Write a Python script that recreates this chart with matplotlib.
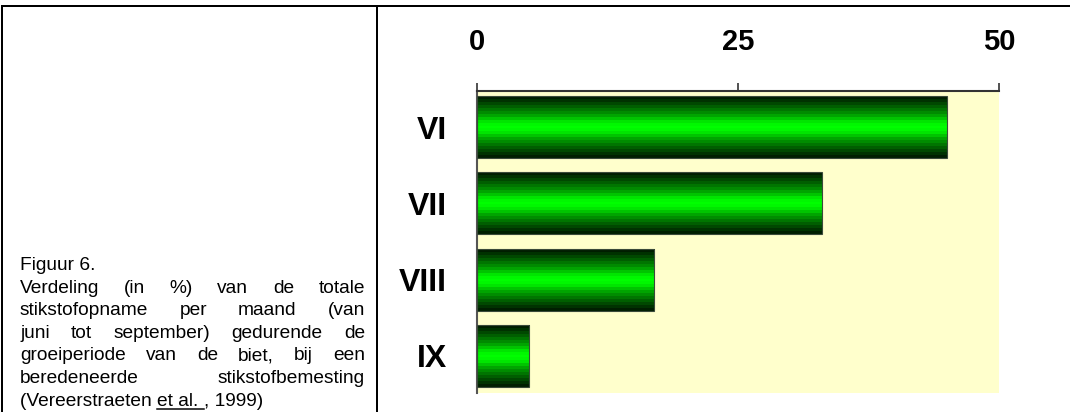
import matplotlib
matplotlib.use('Agg')
import matplotlib.pyplot as plt
from matplotlib.colors import LinearSegmentedColormap
from matplotlib.lines import Line2D
import numpy as np

# Share of total nitrogen uptake per month (%)
months = ['VI', 'VII', 'VIII', 'IX']
uptake_pct = [45, 33, 17, 5]
x_ticks = [0, 25, 50]

caption_lines = [
    'Figuur 6.',
    'Verdeling (in %) van de totale',
    'stikstofopname per maand (van',
    'juni tot september) gedurende de',
    'groeiperiode van de biet, bij een',
    'beredeneerde stikstofbemesting',
]
citation_parts = ['(Vereerstraeten ', 'et al. ', ', 1999)']

W, H = 1070, 412
fig = plt.figure(figsize=(W / 100, H / 100), dpi=100)
fig.patch.set_facecolor('white')

# bar chart area
ax = fig.add_axes([477 / W, (H - 393) / H, 522 / W, 302 / H])
ax.set_facecolor('#ffffcc')

ypos = np.arange(len(months))
bars = ax.barh(ypos, uptake_pct, height=0.81, facecolor='none',
               edgecolor='#3a4a3a', linewidth=0.8, zorder=3)

# banded green cylinder shading, dark at the edges, bright in the middle
green = LinearSegmentedColormap.from_list('cyl', [
    (0.00, (0.0, 0.12, 0.0)),
    (0.12, (0.0, 0.32, 0.0)),
    (0.28, (0.0, 0.60, 0.0)),
    (0.42, (0.0, 0.95, 0.0)),
    (0.50, (0.0, 1.00, 0.0)),
    (0.58, (0.0, 0.95, 0.0)),
    (0.72, (0.0, 0.60, 0.0)),
    (0.88, (0.0, 0.32, 0.0)),
    (1.00, (0.0, 0.12, 0.0)),
])
shade = np.linspace(0, 1, 21).reshape(-1, 1)
for b in bars:
    x0, y0 = b.get_x(), b.get_y()
    im = ax.imshow(shade, cmap=green, aspect='auto', interpolation='nearest',
                   extent=[x0, x0 + b.get_width(), y0, y0 + b.get_height()],
                   zorder=2)
    im.set_clip_path(b)

ax.set_xlim(0, 50)
ax.set_ylim(3.485, -0.472)
ax.set_yticks(ypos)
ax.set_yticklabels(months, fontsize=23, fontweight='bold', family='Liberation Sans')
ax.tick_params(axis='y', length=0, pad=21.5)

ax.xaxis.tick_top()
ax.set_xticks(x_ticks)
ax.set_xticklabels([str(t) for t in x_ticks], fontsize=21, fontweight='bold',
                   family='Liberation Sans')
ax.tick_params(axis='x', direction='out', length=6, width=1.2, color='#333333',
               pad=19)

for s in ['right', 'bottom']:
    ax.spines[s].set_visible(False)
ax.spines['top'].set_color('#333333')
ax.spines['top'].set_linewidth(1.5)
ax.spines['left'].set_color('#555555')
ax.spines['left'].set_linewidth(1.5)

# table frame lines
def px_line(x0, y0, x1, y1, lw=2.0):
    fig.add_artist(Line2D([x0 / W, x1 / W], [1 - y0 / H, 1 - y1 / H],
                          transform=fig.transFigure, color='black', lw=lw * 0.72))

px_line(2, 6, W, 6)
px_line(2, 6, 2, H)
px_line(377, 6, 377, H)

# justified caption in the left cell
renderer = fig.canvas.get_renderer()
left, right = 20, 365
base0, step = 270, 22.6
font = dict(fontsize=13.8, family='Liberation Sans', color='black')


def text_width(s):
    t = fig.text(0, 0, s, **font)
    w = t.get_window_extent(renderer).width
    t.remove()
    return w


space_w = text_width('a\u00a0a') - text_width('aa')

for i, line in enumerate(caption_lines):
    y = 1 - (base0 + i * step) / H
    words = line.split(' ')
    if i == 0 or len(words) == 1:
        fig.text(left / W, y, line, va='baseline', **font)
        continue
    widths = [text_width(w) for w in words]
    gap = max(space_w, (right - left - sum(widths)) / (len(words) - 1))
    x = left
    for w, wd in zip(words, widths):
        fig.text(x / W, y, w, va='baseline', **font)
        x += wd + gap

# last line with underlined "et al."
y_last = base0 + len(caption_lines) * step
x = left
for j, part in enumerate(citation_parts):
    fig.text(x / W, 1 - y_last / H, part, va='baseline', **font)
    wd = text_width(part.replace(' ', '\u00a0'))
    if j == 1:
        px_line(x, y_last + 3, x + wd, y_last + 3, lw=1.5)
    x += wd

fig.savefig('out.png', dpi=100)
